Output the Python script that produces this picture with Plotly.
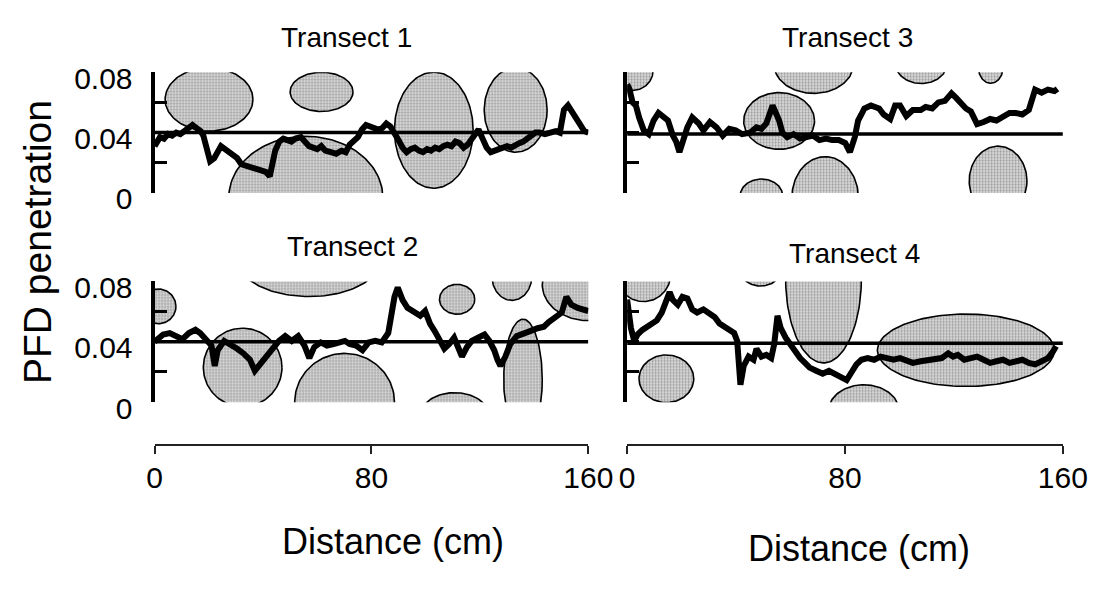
import numpy as np
import plotly.graph_objects as go

W, H = 1117, 591
FONT = "Liberation Sans, Arial, Helvetica, sans-serif"

# ---------------- data ----------------
panel_titles = ["Transect 1", "Transect 2", "Transect 3", "Transect 4"]
x_ticks = [0, 80, 160]
y_ticks = [0, 0.02, 0.04, 0.06, 0.08]
y_ticktext = ["0", "", "0.04", "", "0.08"]
mean_levels = [0.04, 0.04, 0.039, 0.039]   # T1, T2, T3, T4

t1_x = [0, 1, 2, 3.5, 5, 6.5, 8, 9.5, 11, 12.5, 14, 15.5, 17, 18, 19, 20.5, 22, 23, 24.5, 26,
        27.5, 29, 30.5, 32, 33.5, 35, 36.5, 38, 39.5, 41, 42.5, 43.5, 44.5, 46, 47.5, 49, 50.5,
        52, 54, 55.5, 57, 58.5, 60, 61.5, 63, 65, 67, 69, 70.5, 72, 73.5, 75, 76.5, 78, 79.5, 81,
        82.5, 84, 85.5, 87, 88.5, 90, 91.5, 93, 94.5, 96, 97.5, 99, 100.5, 102, 103.5, 105, 106.5,
        108, 109.5, 111, 112.5, 114, 115.5, 117, 118.5, 119.5, 121, 122.5, 124, 125.5, 127, 128.5,
        130, 131.5, 133, 134.5, 136, 137.5, 139, 140.5, 142, 144, 146, 148, 149.5, 151, 152.5, 154,
        155.5, 157, 158.5, 160]
t1_y = [0.031, 0.034, 0.037, 0.036, 0.039, 0.038, 0.040, 0.039, 0.041, 0.043, 0.045, 0.043, 0.041,
        0.038, 0.031, 0.021, 0.023, 0.027, 0.031, 0.029, 0.027, 0.025, 0.023, 0.019, 0.018, 0.017,
        0.0165, 0.016, 0.015, 0.014, 0.011, 0.019, 0.028, 0.034, 0.036, 0.035, 0.034, 0.036, 0.037,
        0.034, 0.031, 0.030, 0.029, 0.031, 0.028, 0.027, 0.026, 0.028, 0.027, 0.032, 0.035, 0.037,
        0.042, 0.045, 0.044, 0.043, 0.042, 0.043, 0.046, 0.044, 0.040, 0.035, 0.030, 0.027, 0.029,
        0.030, 0.028, 0.027, 0.029, 0.028, 0.030, 0.029, 0.031, 0.032, 0.031, 0.034, 0.033, 0.030,
        0.032, 0.036, 0.041, 0.042, 0.036, 0.030, 0.027, 0.028, 0.029, 0.030, 0.031, 0.030, 0.032,
        0.033, 0.034, 0.036, 0.038, 0.040, 0.040, 0.039, 0.040, 0.041, 0.040, 0.055, 0.058, 0.054,
        0.050, 0.046, 0.041, 0.040]

t2_x = [0, 1.4, 3.2, 5.6, 7.9, 10.3, 12.7, 15.1, 16.8, 19.2, 21.0, 22.2, 23.3, 25.7, 28.1, 30.5,
        32.8, 35.2, 37.0, 38.8, 41.1, 43.5, 45.9, 48.2, 50.6, 53.0, 55.3, 57.1, 58.9, 61.3, 63.6,
        66.0, 68.4, 70.2, 71.9, 74.3, 76.7, 79.0, 81.4, 83.8, 86.2, 87.3, 88.5, 89.7, 91.5, 93.3,
        95.6, 98.0, 99.8, 101.6, 103.4, 105.1, 106.9, 108.7, 110.5, 112.2, 113.4, 115.2, 117.0,
        119.3, 121.7, 123.5, 125.3, 126.5, 127.6, 129.4, 131.2, 133.6, 135.9, 138.3, 141.3, 143.6,
        145.4, 147.8, 150.2, 151.9, 153.7, 156.1, 158.5, 160]
t2_y = [0.040, 0.0427, 0.0448, 0.0458, 0.0438, 0.0417, 0.0458, 0.048, 0.0458, 0.0417, 0.0375,
        0.024, 0.0344, 0.0406, 0.0385, 0.0354, 0.0323, 0.0281, 0.0208, 0.025, 0.0302, 0.0354,
        0.0406, 0.0438, 0.0406, 0.0438, 0.0375, 0.0292, 0.0365, 0.0396, 0.0375, 0.0385, 0.0396,
        0.0406, 0.0385, 0.0375, 0.0344, 0.0396, 0.0406, 0.0396, 0.0458, 0.0573, 0.0698, 0.076,
        0.0677, 0.0625, 0.0594, 0.0573, 0.0604, 0.0521, 0.0469, 0.0406, 0.0354, 0.0385, 0.0427,
        0.0354, 0.0302, 0.0365, 0.0406, 0.0427, 0.0448, 0.0406, 0.0344, 0.0281, 0.024, 0.0302,
        0.0385, 0.0438, 0.0458, 0.0469, 0.049, 0.050, 0.0531, 0.0563, 0.0594, 0.0698, 0.0646,
        0.0625, 0.0615, 0.0604]

t3_x = [0, 0.8, 2.0, 3.2, 4.4, 6.1, 7.9, 9.7, 11.5, 13.2, 15.0, 16.8, 18.0, 19.2, 20.3, 22.1,
        23.9, 26.3, 28.0, 30.4, 32.8, 35.1, 37.5, 39.8, 42.2, 45.2, 47.5, 49.3, 51.1, 52.3, 53.4,
        54.6, 55.8, 57.0, 58.8, 61.1, 63.5, 65.9, 68.2, 70.6, 73.0, 75.3, 77.7, 80.1, 81.8, 83.6,
        84.8, 86.0, 87.1, 89.5, 92.5, 94.2, 96.6, 98.4, 100.2, 102.5, 104.9, 107.8, 109.6, 112.0,
        114.3, 116.7, 119.1, 120.8, 122.6, 124.4, 126.2, 128.5, 130.9, 133.3, 135.6, 138.0, 140.4,
        142.7, 145.1, 147.5, 149.8, 152.2, 154.5, 156.9, 158]
t3_y = [0.072, 0.069, 0.060, 0.058, 0.050, 0.0415, 0.039, 0.048, 0.053, 0.051, 0.048, 0.038,
        0.034, 0.027, 0.033, 0.0435, 0.050, 0.046, 0.0415, 0.047, 0.0435, 0.038, 0.0425, 0.0415,
        0.039, 0.040, 0.0435, 0.0425, 0.046, 0.054, 0.058, 0.053, 0.048, 0.040, 0.037, 0.039,
        0.036, 0.037, 0.038, 0.035, 0.036, 0.035, 0.035, 0.033, 0.027, 0.037, 0.048, 0.052, 0.056,
        0.058, 0.056, 0.052, 0.049, 0.058, 0.058, 0.051, 0.055, 0.055, 0.057, 0.056, 0.060, 0.061,
        0.066, 0.063, 0.059, 0.056, 0.054, 0.0456, 0.047, 0.049, 0.048, 0.051, 0.053, 0.053,
        0.052, 0.055, 0.0685, 0.0665, 0.0685, 0.0675, 0.069]

t4_x = [0, 1.4, 2.6, 3.8, 5.6, 7.3, 9.1, 10.9, 12.7, 14.4, 15.6, 16.8, 18.6, 20.3, 22.1, 23.9,
        25.7, 28.0, 30.4, 32.2, 33.9, 35.7, 37.5, 39.3, 40.4, 41.6, 42.8, 44.6, 46.4, 47.5, 49.3,
        51.1, 52.9, 54.0, 55.2, 56.4, 58.2, 60.0, 61.7, 63.5, 65.3, 67.0, 69.4, 71.8, 74.1, 76.5,
        78.9, 80.6, 82.4, 84.2, 86.0, 88.3, 90.7, 93.1, 95.4, 97.8, 100.2, 102.5, 104.9, 107.8,
        110.8, 113.2, 115.5, 117.9, 119.7, 121.4, 123.8, 126.2, 128.5, 130.9, 133.3, 135.6, 138.0,
        140.4, 142.7, 145.1, 147.5, 149.8, 152.2, 154.5, 156.3, 157.5]
t4_y = [0.068, 0.049, 0.0406, 0.0448, 0.0479, 0.050, 0.0521, 0.0542, 0.0594, 0.0677, 0.0729,
        0.0677, 0.0646, 0.0698, 0.0688, 0.0615, 0.0594, 0.0615, 0.0583, 0.0563, 0.0521, 0.050,
        0.0479, 0.0458, 0.0406, 0.0115, 0.024, 0.0302, 0.0281, 0.0354, 0.0302, 0.0313, 0.0292,
        0.0385, 0.0573, 0.049, 0.0427, 0.0375, 0.0333, 0.0292, 0.026, 0.0229, 0.0208, 0.0188,
        0.0208, 0.0188, 0.0167, 0.0146, 0.0198, 0.025, 0.0281, 0.0292, 0.0281, 0.0302, 0.0292,
        0.0281, 0.0292, 0.0271, 0.026, 0.0271, 0.0281, 0.0281, 0.0292, 0.0323, 0.0302, 0.0313,
        0.0281, 0.0292, 0.0302, 0.0281, 0.026, 0.0271, 0.0281, 0.026, 0.0271, 0.0281, 0.026,
        0.025, 0.0271, 0.0292, 0.0333, 0.037]

# light patches (ellipses): centre x, centre y, half-width, half-height
t1_patch_cx = [20.1, 61.6, 55.8, 103.0, 133.2]
t1_patch_cy = [0.062, 0.067, -0.003, 0.0416, 0.055]
t1_patch_rx = [16.2, 11.6, 28.4, 14.5, 11.6]
t1_patch_ry = [0.021, 0.013, 0.0405, 0.0385, 0.028]

t2_patch_cx = [1.4, 57.0, 32.5, 70.1, 110.7, 111.6, 131.8, 160.0, 135.9]
t2_patch_cy = [0.0635, 0.095, 0.023, 0.0, -0.010, 0.0682, 0.083, 0.078, 0.015]
t2_patch_rx = [6.5, 26.5, 14.5, 18.4, 13.0, 6.5, 7.3, 17.0, 7.1]
t2_patch_ry = [0.0115, 0.025, 0.026, 0.0323, 0.0163, 0.0099, 0.0155, 0.024, 0.040]

t3_patch_cx = [2.0, 68.5, 108.0, 133.5, 55.8, 49.3, 72.7, 136.2]
t3_patch_cy = [0.081, 0.085, 0.086, 0.083, 0.0477, -0.002, -0.003, 0.008]
t3_patch_rx = [7.5, 14.5, 9.5, 4.5, 13.0, 7.8, 12.2, 10.6]
t3_patch_ry = [0.013, 0.019, 0.0135, 0.0103, 0.0188, 0.0112, 0.027, 0.023]

t4_patch_cx = [6.0, 49.0, 72.1, 14.4, 86.9, 124.4]
t4_patch_cy = [0.085, 0.086, 0.082, 0.0155, -0.006, 0.0344]
t4_patch_rx = [10.0, 7.0, 13.9, 10.05, 13.0, 32.5]
t4_patch_ry = [0.0183, 0.009, 0.056, 0.0158, 0.0175, 0.024]

# ---------------- figure ----------------
panels = [
    (t1_x, t1_y, (t1_patch_cx, t1_patch_cy, t1_patch_rx, t1_patch_ry), mean_levels[0], "x", "y"),
    (t2_x, t2_y, (t2_patch_cx, t2_patch_cy, t2_patch_rx, t2_patch_ry), mean_levels[1], "x3", "y3"),
    (t3_x, t3_y, (t3_patch_cx, t3_patch_cy, t3_patch_rx, t3_patch_ry), mean_levels[2], "x2", "y2"),
    (t4_x, t4_y, (t4_patch_cx, t4_patch_cy, t4_patch_rx, t4_patch_ry), mean_levels[3], "x4", "y4"),
]

fig = go.Figure()
theta = np.linspace(0, 2 * np.pi, 140)
for px, py, (cxs, cys, rxs, rys), mean, xa, ya in panels:
    for cx, cy, rx, ry in zip(cxs, cys, rxs, rys):
        fig.add_trace(go.Scatter(
            x=cx + rx * np.cos(theta), y=cy + ry * np.sin(theta),
            mode="lines", fill="toself",
            fillcolor="#c4c4c4",
            fillpattern=dict(shape=".", fgcolor="#4a4a4a", bgcolor="#e4e4e4", size=3, solidity=0.45),
            line=dict(color="black", width=1.6),
            xaxis=xa, yaxis=ya, showlegend=False, hoverinfo="skip"))
    fig.add_trace(go.Scatter(x=[0, 160], y=[mean, mean], mode="lines",
                             line=dict(color="black", width=3.5),
                             xaxis=xa, yaxis=ya, showlegend=False))
    fig.add_trace(go.Scatter(x=px, y=py, mode="lines",
                             line=dict(color="black", width=6, shape="linear"),
                             xaxis=xa, yaxis=ya, showlegend=False))

xL = [151 / W, 598 / W]
xR = [638 / W, 1087 / W]
yT = [1 - 193 / H, 1 - 65 / H]
yB = [1 - 415 / H, 1 - 287 / H]
bottom_axis_pos = 1 - 461 / H

def yaxis(domain, anchor, labels):
    return dict(domain=domain, anchor=anchor, range=[0, 0.08], showgrid=False, zeroline=False,
                showline=True, linewidth=4, linecolor="black", mirror=False,
                ticks="inside", ticklen=12, tickwidth=3, tickcolor="black",
                tickvals=y_ticks, ticktext=labels if labels else [""] * len(y_ticks),
                tickfont=dict(family=FONT, size=30, color="black"),
                ticklabelstandoff=12, ticklabelshift=6, fixedrange=True)

def xaxis_hidden(domain, anchor):
    return dict(domain=domain, anchor=anchor, range=[0, 160], visible=False,
                showgrid=False, zeroline=False, fixedrange=True)

def xaxis_bottom(domain):
    return dict(domain=domain, anchor="free", position=bottom_axis_pos, range=[0, 160],
                showgrid=False, zeroline=False, showline=True, linewidth=2, linecolor="#222",
                ticks="outside", ticklen=8, tickwidth=2, tickcolor="#222",
                tickvals=x_ticks, ticktext=[str(v) for v in x_ticks],
                tickfont=dict(family=FONT, size=30, color="black"),
                ticklabelstandoff=-2, fixedrange=True)

fig.update_layout(
    width=W, height=H, margin=dict(l=0, r=0, t=0, b=0),
    paper_bgcolor="white", plot_bgcolor="rgba(0,0,0,0)",
    font=dict(family=FONT, color="black"),
    xaxis=xaxis_hidden(xL, "y"), yaxis=yaxis(yT, "x", y_ticktext),
    xaxis2=xaxis_hidden(xR, "y2"), yaxis2=yaxis(yT, "x2", None),
    xaxis3=xaxis_bottom(xL), yaxis3=yaxis(yB, "x3", y_ticktext),
    xaxis4=xaxis_bottom(xR), yaxis4=yaxis(yB, "x4", None),
    showlegend=False,
)

ann = [
    (panel_titles[0], 349, 28, 28, 0),
    (panel_titles[2], 865, 28, 28, 0),
    (panel_titles[1], 355, 250, 28, 0),
    (panel_titles[3], 872, 257, 28, 0),
    ("PFD penetration", 31, 245, 39, -90),
    ("Distance (cm)", 397, 563, 36, 0),
    ("Distance (cm)", 877, 570, 36, 0),
]
for text, px_, py_, size, angle in ann:
    fig.add_annotation(text=text, x=px_ / W, y=1 - py_ / H, xref="paper", yref="paper",
                       xanchor="center", yanchor="middle", showarrow=False, textangle=angle,
                       font=dict(family=FONT, size=size, color="black"))

fig.write_html("out.html")
